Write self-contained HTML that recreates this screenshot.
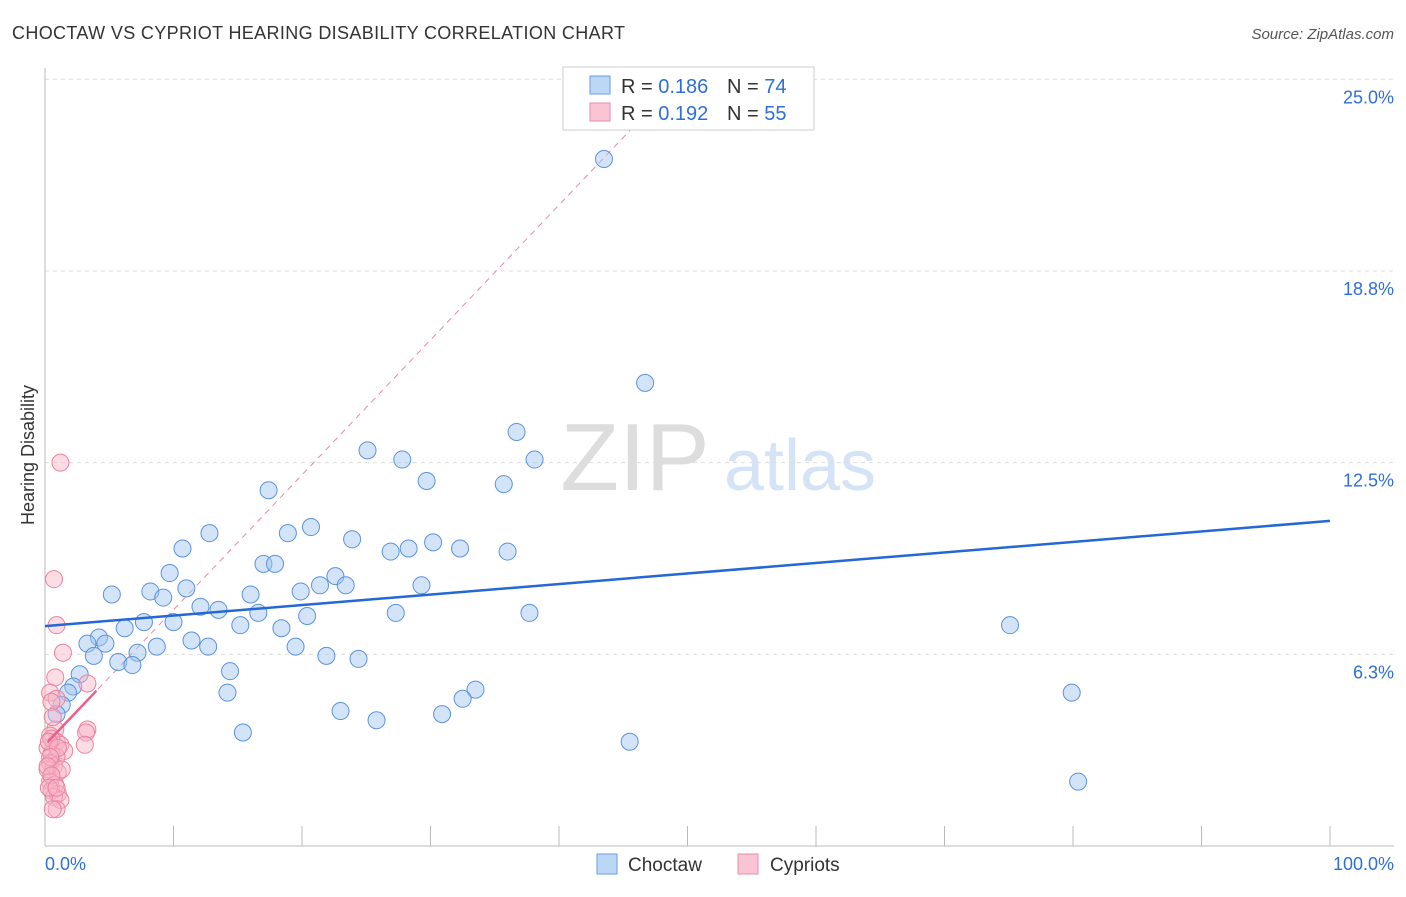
<!DOCTYPE html>
<html><head><meta charset="utf-8"><style>
body{margin:0;background:#fff;font-family:"Liberation Sans",sans-serif;}
svg text{font-family:"Liberation Sans",sans-serif;}
</style></head><body>
<svg id="chart" width="1406" height="892" viewBox="0 0 1406 892" xmlns="http://www.w3.org/2000/svg">
<text x="12" y="39" font-size="18" fill="#333" textLength="613">CHOCTAW VS CYPRIOT HEARING DISABILITY CORRELATION CHART</text>
<text x="1394" y="39" font-size="15" fill="#555" text-anchor="end" font-style="italic">Source: ZipAtlas.com</text>
<text x="635" y="490" font-size="96" fill="#ddd" font-family="Liberation Serif" text-anchor="middle">ZIP</text>
<text x="800" y="490" font-size="72" fill="#d4e3f5" text-anchor="middle">atlas</text>
<text transform="translate(34,455) rotate(-90)" font-size="18" fill="#333" text-anchor="middle">Hearing Disability</text>
<g id="grid"></g><g id="axes"></g><g id="marks"></g>
<g>
<rect x="563" y="67" width="251" height="63" fill="#fff" stroke="#ccc"/>
<rect x="590" y="76" width="20" height="18" fill="#bcd6f5" stroke="#6a9ee0"/>
<text x="621" y="93" font-size="20" fill="#333">R = <tspan fill="#2f6fd6">0.186</tspan></text>
<text x="727" y="93" font-size="20" fill="#333">N = <tspan fill="#2f6fd6">74</tspan></text>
<rect x="590" y="103" width="20" height="18" fill="#f9c5d4" stroke="#e88aa6"/>
<text x="621" y="120" font-size="20" fill="#333">R = <tspan fill="#2f6fd6">0.192</tspan></text>
<text x="727" y="120" font-size="20" fill="#333">N = <tspan fill="#2f6fd6">55</tspan></text>
</g>
<g>
<rect x="597" y="854" width="20" height="20" fill="#bcd6f5" stroke="#6a9ee0"/>
<text x="628" y="871" font-size="19" fill="#333">Choctaw</text>
<rect x="738" y="854" width="20" height="20" fill="#f9c5d4" stroke="#e88aa6"/>
<text x="770" y="871" font-size="19" fill="#333">Cypriots</text>
</g>
<text x="45" y="870" font-size="18" fill="#2f6fd6">0.0%</text>
<text x="1394" y="870" font-size="18" fill="#2f6fd6" text-anchor="end">100.0%</text>
</svg>
<script>
const yTicks=[25,18.75,12.5,6.25];
const yTickLabels=["25.0%","18.8%","12.5%","6.3%"];
const choctawX=[43.5,46.7,36.7,25.1,27.8,38.1,29.7,35.7,17.4,20.7,12.8,18.9,23.9,10.7,30.2,28.3,26.9,32.3,36.0,17.0,17.9,9.7,22.6,21.4,23.4,29.3,5.2,8.2,9.2,11.0,16.0,19.9,12.1,13.5,16.6,20.4,27.3,37.7,7.7,10.0,6.2,15.2,18.4,75.1,4.2,3.3,4.7,11.4,12.7,8.7,19.5,7.2,5.7,3.8,6.8,21.9,24.4,14.4,2.7,2.2,1.8,14.2,33.5,32.5,1.3,0.9,23.0,25.8,30.9,15.4,45.5,79.9,80.4];
const choctawY=[22.4,15.1,13.5,12.9,12.6,12.6,11.9,11.8,11.6,10.4,10.2,10.2,10.0,9.7,9.9,9.7,9.6,9.7,9.6,9.2,9.2,8.9,8.8,8.5,8.5,8.5,8.2,8.3,8.1,8.4,8.2,8.3,7.8,7.7,7.6,7.5,7.6,7.6,7.3,7.3,7.1,7.2,7.1,7.2,6.8,6.6,6.6,6.7,6.5,6.5,6.5,6.3,6.0,6.2,5.9,6.2,6.1,5.7,5.6,5.2,5.0,5.0,5.1,4.8,4.6,4.3,4.4,4.1,4.3,3.7,3.4,5.0,2.1];
const cyprX=[1.2,0.7,0.9,1.4,0.8,3.3,0.4,0.9,0.5,3.3,3.2,0.8,0.4,0.9,1.2,3.1,0.2,1.5,0.5,0.9,0.4,0.7,0.2,1.0,0.4,0.8,0.5,1.0,0.7,1.2,0.9,0.5,0.3,0.6,1.0,0.4,0.2,1.3,0.5,0.3,0.9,0.6];
const cyprY=[12.5,8.7,7.2,6.3,5.5,5.3,5.0,4.8,4.7,3.8,3.7,3.8,3.6,3.4,3.3,3.3,3.2,3.1,3.0,2.9,2.7,2.6,2.5,2.4,2.1,2.0,1.8,1.7,1.6,1.5,1.2,3.5,3.4,4.2,3.2,2.9,2.6,2.5,2.3,1.9,1.9,1.2];
const choctawFit=[7.17,10.6];
const cyprFit=[3.3,0.44];
const NS="http://www.w3.org/2000/svg";
const X=v=>45+v*12.85, Y=v=>846-v*30.67;
function mk(tag,attrs,parent){const e=document.createElementNS(NS,tag);for(const k in attrs)e.setAttribute(k,attrs[k]);parent.appendChild(e);return e;}
const grid=document.getElementById('grid'),axes=document.getElementById('axes'),marks=document.getElementById('marks');
yTicks.forEach((t,i)=>{
 const l=mk('line',{x1:45,x2:1394,y1:Y(t),y2:Y(t),stroke:'#ddd','stroke-dasharray':'4,4'},grid);
 
 
 const tx=mk('text',{x:1394,y:Y(t)+24,'font-size':18,fill:'#2f6fd6','text-anchor':'end'},grid);
 tx.textContent=yTickLabels[i];
 
 
});
mk('line',{x1:45,x2:45,y1:68,y2:846,stroke:'#bbb'},axes);
mk('line',{x1:45,x2:1394,y1:846,y2:846,stroke:'#bbb'},axes);
for(let i=1;i<=10;i++){const t=mk('line',{x1:X(i*10),x2:X(i*10),y1:826,y2:846,stroke:'#bbb'},axes);
 
 }
const dEnd=(25-cyprFit[0])/cyprFit[1];
const dl=mk('line',{x1:X(0),y1:Y(cyprFit[0]),x2:X(dEnd),y2:Y(25),stroke:'#e88aa6','stroke-width':1,'stroke-dasharray':'6,5'},marks);


choctawX.forEach((x,i)=>{const c=mk('circle',{cx:X(x),cy:Y(choctawY[i]),r:8.5,fill:'rgba(160,196,240,0.45)',stroke:'#5b93dc','stroke-width':1},marks);
 
 });
cyprX.forEach((x,i)=>{const c=mk('circle',{cx:X(x),cy:Y(cyprY[i]),r:8.5,fill:'rgba(248,180,200,0.45)',stroke:'#e8849f','stroke-width':1},marks);
 
 });
const bl=mk('line',{x1:X(0),y1:Y(choctawFit[0]),x2:X(100),y2:Y(choctawFit[1]),stroke:'#2468d6','stroke-width':2.5},marks);


const pl=mk('line',{x1:X(0.2),y1:Y(cyprFit[0]+cyprFit[1]*0.2),x2:X(4),y2:Y(cyprFit[0]+cyprFit[1]*4),stroke:'#e8608a','stroke-width':2.5},marks);


</script>
</body></html>
